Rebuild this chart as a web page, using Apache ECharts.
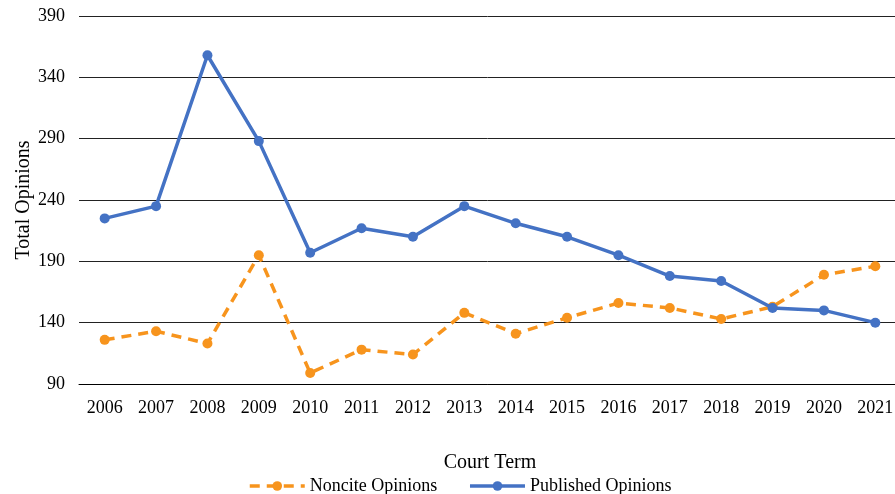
<!DOCTYPE html>
<html>
<head>
<meta charset="utf-8">
<script src="https://cdn.jsdelivr.net/npm/echarts@6/dist/echarts.min.js"></script>
<style>
  html, body { margin: 0; padding: 0; background: #fff; }
  #main { width: 895px; height: 494px; }
</style>
</head>
<body>
<div id="main"></div>
<script>
var terms = ['2006', '2007', '2008', '2009', '2010', '2011', '2012', '2013',
             '2014', '2015', '2016', '2017', '2018', '2019', '2020', '2021'];
var noncite = [126, 133, 123, 195, 99, 118, 114, 148, 131, 144, 156, 152, 143, 153, 179, 186];
var published = [225, 235, 358, 288, 197, 217, 210, 235, 221, 210, 195, 178, 174, 152, 150, 140];
var yTicks = [90, 140, 190, 240, 290, 340, 390];

var chartDom = document.getElementById('main');
var myChart = echarts.init(chartDom);
var font = '"Liberation Serif", "DejaVu Serif", serif';
var option;

option = {
    textStyle: { fontFamily: font },
    grid: { left: 79, width: 822, top: 16, bottom: 110, containLabel: false, outerBoundsMode: 'none' },
    legend: {
        top: 472,
        left: 243,
        itemWidth: 55,
        itemHeight: 12,
        itemGap: 31,
        lineStyle: { width: 3.5 },
        textStyle: { fontFamily: font, fontSize: 18, color: '#000' },
        data: ['Noncite Opinions', 'Published Opinions']
    },
    xAxis: {
        type: 'category',
        data: terms,
        name: 'Court Term',
        nameLocation: 'middle',
        nameGap: 69,
        nameMoveOverlap: false,
        nameTextStyle: { fontFamily: font, fontSize: 20, color: '#000' },
        axisLine: { show: true, lineStyle: { color: '#000', width: 1 } },
        axisTick: { show: false },
        axisLabel: { fontFamily: font, fontSize: 18, color: '#000', margin: 15 }
    },
    yAxis: {
        type: 'value',
        min: yTicks[0],
        max: yTicks[yTicks.length - 1],
        interval: 50,
        name: 'Total Opinions',
        nameLocation: 'middle',
        nameGap: 45,
        nameMoveOverlap: false,
        nameTextStyle: { fontFamily: font, fontSize: 20, color: '#000' },
        axisLine: { show: false },
        axisTick: { show: false },
        axisLabel: { fontFamily: font, fontSize: 18, color: '#000', margin: 14 },
        splitLine: { lineStyle: { color: '#222', width: 1 } }
    },
    series: [
        {
            name: 'Noncite Opinions',
            type: 'line',
            data: noncite,
            symbol: 'circle',
            symbolSize: 10,
            lineStyle: { width: 3.5, type: [10, 7] },
            z: 2
        },
        {
            name: 'Published Opinions',
            type: 'line',
            data: published,
            symbol: 'circle',
            symbolSize: 10,
            lineStyle: { width: 3.5 },
            z: 3
        }
    ],
    color: ['#F7941D', '#4472C4']
};

option && myChart.setOption(option);
</script>
</body>
</html>
